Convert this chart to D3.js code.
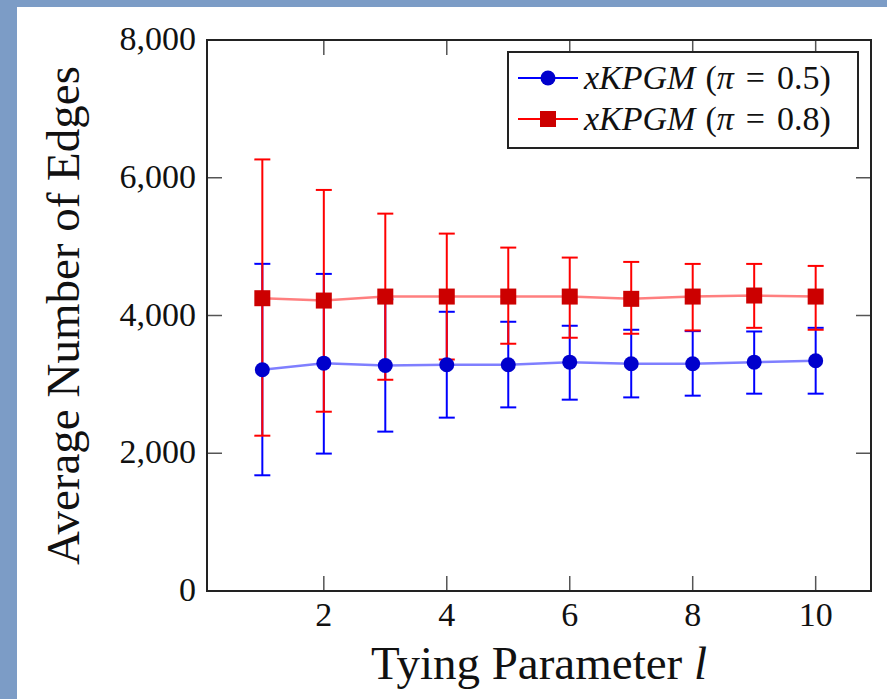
<!DOCTYPE html>
<html>
<head>
<meta charset="utf-8">
<script src="https://cdn.jsdelivr.net/npm/d3@7/dist/d3.min.js"></script>
<style>
  html, body { margin: 0; padding: 0; background: #7c9cc6; }
  svg { display: block; }
  text { font-family: "Liberation Serif", "DejaVu Serif", serif; fill: #111; }
</style>
</head>
<body>
<svg id="chart" width="887" height="699"></svg>
<script>
// ---- data ----
const tyingParam = [1, 2, 3, 4, 5, 6, 7, 8, 9, 10];
const xTicks = [2, 4, 6, 8, 10];
const yTicks = [0, 2000, 4000, 6000, 8000];

const blueMean  = [3212, 3308, 3275, 3285, 3285, 3323, 3300, 3300, 3323, 3343];
const blueUpper = [4750, 4604, 4236, 4054, 3909, 3851, 3793, 3773, 3768, 3821];
const blueLower = [1680, 1995, 2314, 2517, 2666, 2778, 2811, 2836, 2865, 2865];

const redMean  = [4251, 4217, 4275, 4275, 4275, 4275, 4242, 4275, 4290, 4275];
const redUpper = [6266, 5823, 5479, 5189, 4986, 4841, 4778, 4749, 4749, 4720];
const redLower = [2255, 2603, 3067, 3361, 3590, 3677, 3735, 3783, 3821, 3793];

const legendLabels = ["0.5", "0.8"];

// ---- layout ----
const svg = d3.select("#chart");
const W = 887, H = 699;
const L = 207, R = 871, T = 40, B = 591;

svg.append("rect").attr("x", 0).attr("y", 0).attr("width", W).attr("height", H).attr("fill", "#7c9cc6");
svg.append("rect").attr("x", 17).attr("y", 7).attr("width", W - 17).attr("height", H - 7).attr("fill", "#ffffff");

const x = d3.scaleLinear().domain([0.1, 10.9]).range([L, R]);
const y = d3.scaleLinear().domain([0, 8000]).range([B, T]);

const tickLen = 15;
const fmt = d3.format(",");

const g = svg.append("g");
xTicks.forEach(v => {
  g.append("line").attr("x1", x(v)).attr("x2", x(v)).attr("y1", B).attr("y2", B - tickLen)
    .attr("stroke", "#555").attr("stroke-width", 1.5);
  g.append("line").attr("x1", x(v)).attr("x2", x(v)).attr("y1", T).attr("y2", T + tickLen)
    .attr("stroke", "#555").attr("stroke-width", 1.5);
  g.append("text").attr("x", x(v)).attr("y", B + 35).attr("text-anchor", "middle")
    .attr("font-size", 34).text(v);
});
yTicks.forEach(v => {
  if (v !== 0 && v !== 8000) {
    g.append("line").attr("x1", L).attr("x2", L + tickLen).attr("y1", y(v)).attr("y2", y(v))
      .attr("stroke", "#555").attr("stroke-width", 1.5);
    g.append("line").attr("x1", R).attr("x2", R - tickLen).attr("y1", y(v)).attr("y2", y(v))
      .attr("stroke", "#555").attr("stroke-width", 1.5);
  }
  g.append("text").attr("x", L - 11).attr("y", y(v) + 10).attr("text-anchor", "end")
    .attr("font-size", 34).text(fmt(v));
});

// axis titles
svg.append("text").attr("x", (L + R) / 2).attr("y", 679).attr("text-anchor", "middle")
  .attr("font-size", 47)
  .call(t => {
    t.append("tspan").text("Tying Parameter ");
    t.append("tspan").attr("font-style", "italic").text("l");
  });
svg.append("text").attr("transform", `translate(79, ${(T + B) / 2}) rotate(-90)`)
  .attr("text-anchor", "middle").attr("font-size", 47).text("Average Number of Edges");

const series = [
  { mean: blueMean, upper: blueUpper, lower: blueLower, line: "#0000ff", fill: "#0000cc", shape: "circle" },
  { mean: redMean, upper: redUpper, lower: redLower, line: "#ff0000", fill: "#cc0000", shape: "square" }
];

const cap = 8;
series.forEach(s => {
  const eg = svg.append("g").attr("stroke", s.line).attr("stroke-width", 2);
  tyingParam.forEach((xv, i) => {
    const cx = x(xv);
    eg.append("line").attr("x1", cx).attr("x2", cx).attr("y1", y(s.lower[i])).attr("y2", y(s.upper[i]));
    eg.append("line").attr("x1", cx - cap).attr("x2", cx + cap).attr("y1", y(s.upper[i])).attr("y2", y(s.upper[i]));
    eg.append("line").attr("x1", cx - cap).attr("x2", cx + cap).attr("y1", y(s.lower[i])).attr("y2", y(s.lower[i]));
  });
});

const lineGen = d3.line().x((d, i) => x(tyingParam[i])).y(d => y(d));
series.forEach(s => {
  svg.append("path").datum(s.mean).attr("d", lineGen).attr("fill", "none")
    .attr("stroke", s.line).attr("stroke-width", 2.5).attr("stroke-opacity", 0.5);
});

function drawMarker(sel, s, cx, cy) {
  if (s.shape === "circle") {
    sel.append("circle").attr("cx", cx).attr("cy", cy).attr("r", 7.5).attr("fill", s.fill);
  } else {
    sel.append("rect").attr("x", cx - 8).attr("y", cy - 8).attr("width", 16).attr("height", 16).attr("fill", s.fill);
  }
}
series.forEach(s => {
  const mg = svg.append("g");
  tyingParam.forEach((xv, i) => drawMarker(mg, s, x(xv), y(s.mean[i])));
});

svg.append("rect").attr("x", L).attr("y", T).attr("width", R - L).attr("height", B - T)
  .attr("fill", "none").attr("stroke", "#222").attr("stroke-width", 2);

// legend
const lg = svg.append("g");
lg.append("rect").attr("x", 508).attr("y", 52).attr("width", 350).attr("height", 96)
  .attr("fill", "#fff").attr("stroke", "#222").attr("stroke-width", 2);
const rowsY = [78, 119];
series.forEach((s, i) => {
  const ry = rowsY[i];
  lg.append("line").attr("x1", 518).attr("x2", 578).attr("y1", ry).attr("y2", ry)
    .attr("stroke", s.line).attr("stroke-width", 2);
  drawMarker(lg, s, 548, ry);
  const t = lg.append("text").attr("x", 584).attr("y", ry + 11).attr("font-size", 34);
  t.append("tspan").attr("font-style", "italic").text("xKPGM");
  t.append("tspan").attr("dx", 10).text("(");
  t.append("tspan").attr("font-style", "italic").text("π");
  t.append("tspan").attr("dx", 12).text("=");
  t.append("tspan").attr("dx", 12).text(legendLabels[i] + ")");
});
</script>
</body>
</html>
